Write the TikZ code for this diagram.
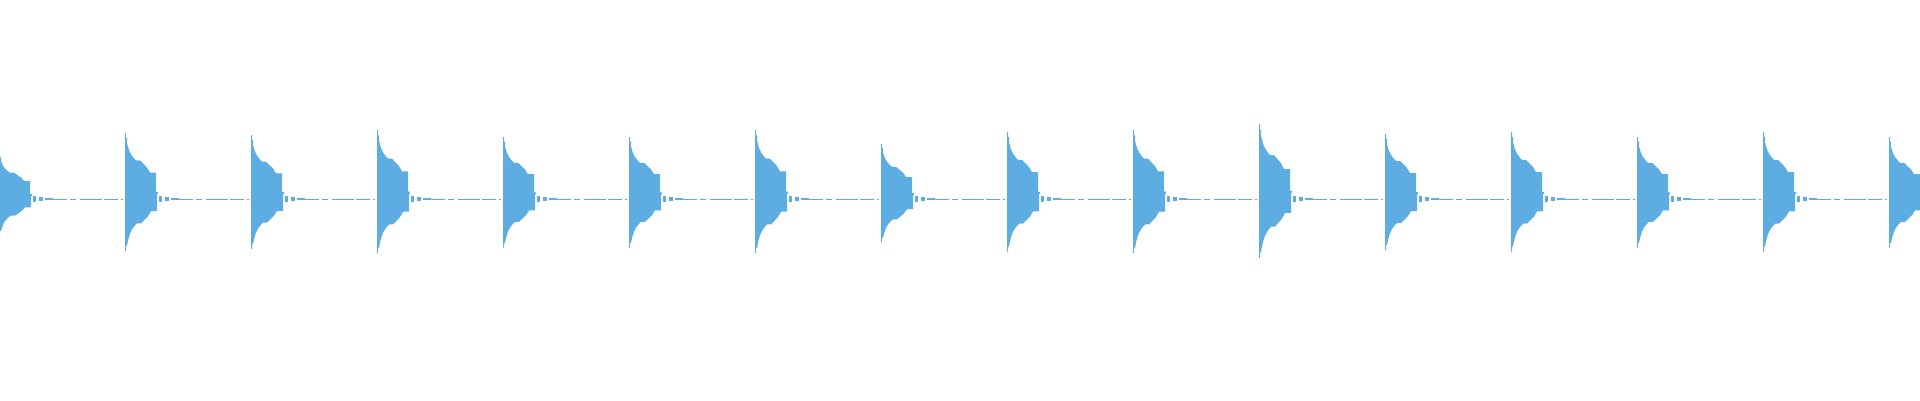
\documentclass[tikz,border=0pt]{standalone}
\begin{document}
\begin{tikzpicture}[x=1pt,y=-1pt,
  wave/.style={fill={rgb,255:red,93;green,173;blue,226},draw=none},
  base/.style={draw={rgb,255:red,93;green,173;blue,226},line width=1pt,dash pattern=on 14pt off 3pt on 6pt off 4pt on 22pt off 2pt}]
\useasboundingbox (0,0) rectangle (1920,400);
\foreach \x/\p [count=\i] in {-1/45,125/66,251/64,377/69,503/62,629/62,755/69,881/55,1007/67,1133/69,1259/75,1385/65,1511/67,1637/62,1763/67,1889/62}{
  \pgfmathsetmacro{\s}{\p/65}
  \fill[wave] (\x,199)
   -- ++(0,-65*\s) -- ++(1,0) -- ++(0,5*\s) -- ++(1,0) -- ++(0,5*\s) -- ++(2,7*\s)
   -- ++(2,4*\s) -- ++(3,4*\s) -- ++(2,2*\s) -- ++(4,0) -- ++(2,2*\s) -- ++(2,2*\s)
   -- ++(3,3*\s) -- ++(3,5*\s) -- ++(6,0) -- ++(0,19*\s) -- ++(1,0) -- ++(0,2) -- ++(1,0)
   -- ++(0,-2) -- ++(-1,0) -- ++(0,19*\s) -- ++(-6,0) -- ++(-3,5*\s) -- ++(-3,3*\s) -- ++(-2,2*\s)
   -- ++(-2,2*\s) -- ++(-4,0) -- ++(-2,2*\s) -- ++(-3,4*\s) -- ++(-2,4*\s) -- ++(-2,7*\s)
   -- ++(-1,5*\s) -- ++(-1,0) -- ++(0,5*\s) -- ++(-1,0) -- cycle;
  \fill[wave] (\x+34,196) rectangle ++(3,6);
  \fill[wave] (\x+40,197) rectangle ++(4,4);
  \fill[wave] (\x+46,198) rectangle ++(8,2);
  \draw[base] (\x+54,199) -- (\x+124,199);
}
\end{tikzpicture}
\end{document}
